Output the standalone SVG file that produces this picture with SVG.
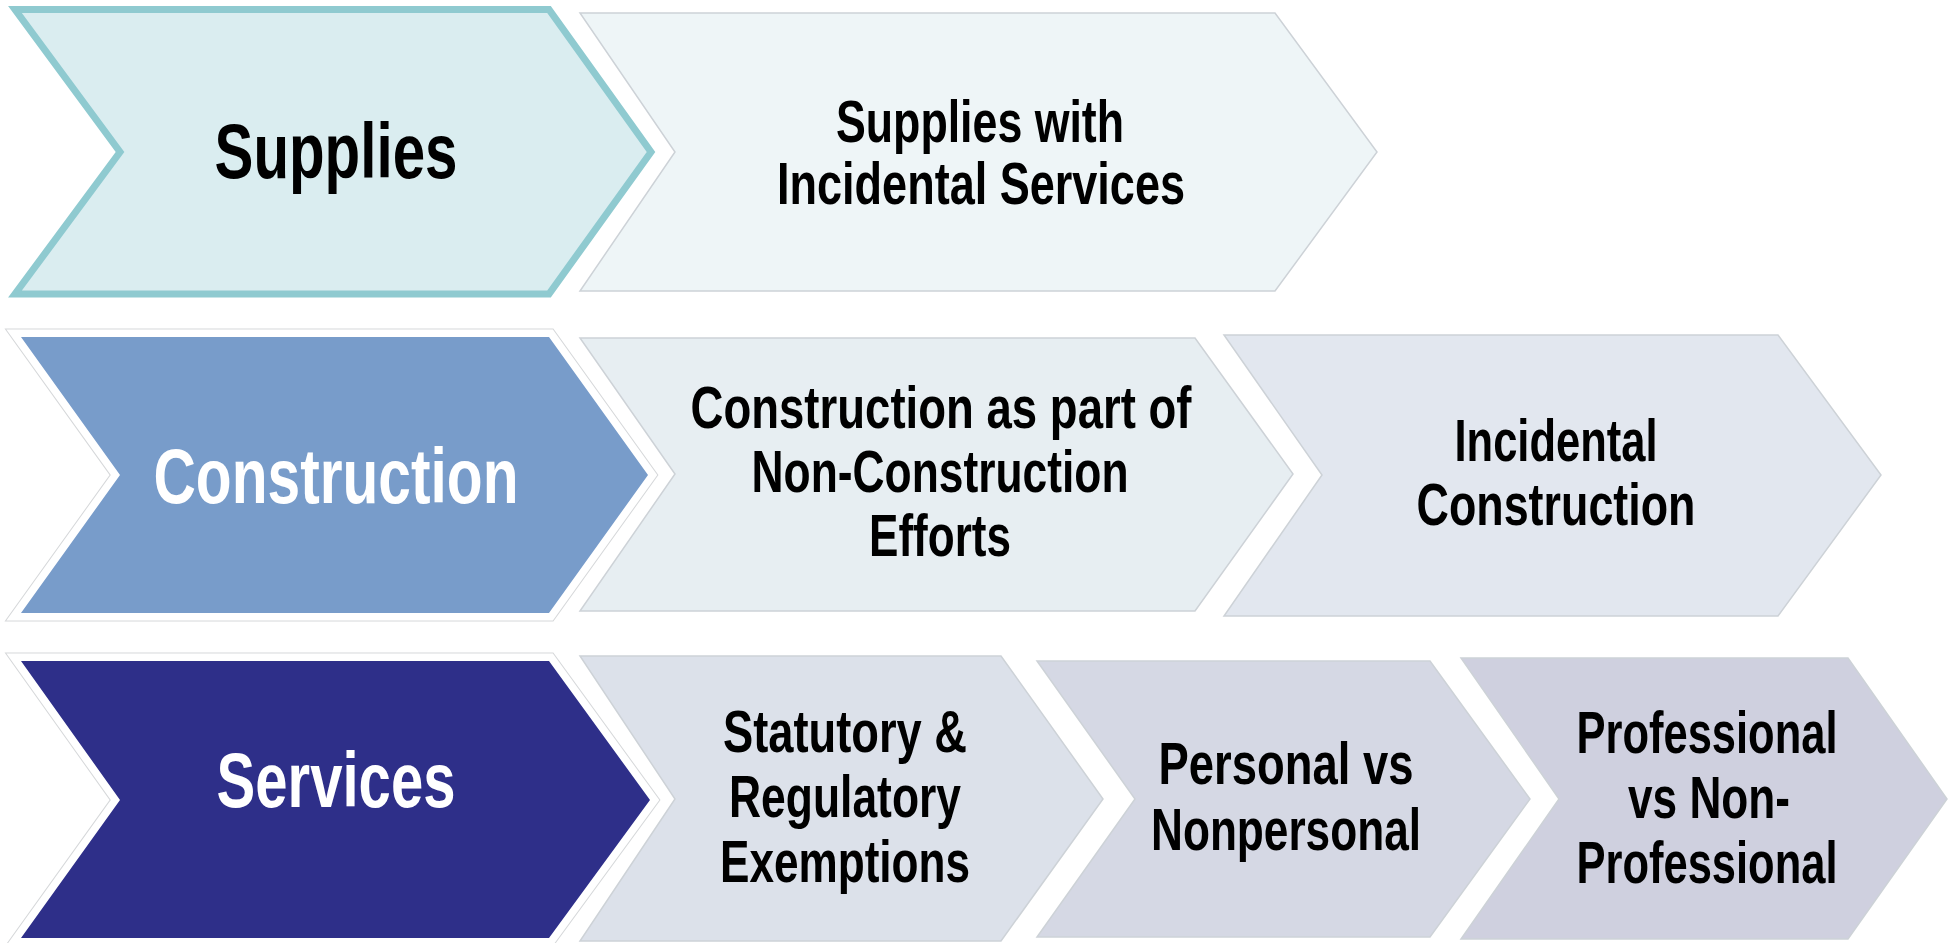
<svg xmlns="http://www.w3.org/2000/svg" width="1952" height="943" viewBox="0 0 1952 943">
<style>
text{font-family:"Liberation Sans",Arial,sans-serif;font-weight:bold;text-anchor:middle;}
.lbl{font-size:77px;}
.sub{font-size:59px;fill:#000;}
.dark{fill:#000;}
.white{fill:#fff;}
.light{stroke:#CDD2D7;stroke-width:1.5;}
.halo1{fill:none;stroke:#D6D8DA;stroke-width:17;stroke-linejoin:miter;}
.halo2{fill:none;stroke:#FFFFFF;stroke-width:15;stroke-linejoin:miter;}
</style>
<rect width="1952" height="943" fill="#FFFFFF"/>
<g id="connectors"/>

<g id="supplies">
<polygon points="15,9.5 549,9.5 651,152 549,294 15,294 120,152" fill="#DAEDF0" stroke="#8FCAD0" stroke-width="7"/>
<text class="lbl dark" x="336" y="178" textLength="243" lengthAdjust="spacingAndGlyphs">Supplies</text>
</g>

<g id="supplies-incidental">
<polygon class="light" points="580,13 1275,13 1377,152 1275,291 580,291 675,152" fill="#EEF5F7"/>
<text class="sub"><tspan x="980" y="142" textLength="288" lengthAdjust="spacingAndGlyphs">Supplies with</tspan><tspan x="981" y="204" textLength="408" lengthAdjust="spacingAndGlyphs">Incidental Services</tspan></text>
</g>

<g id="construction">
<polygon class="halo1" points="21,337 549,337 648,475 549,613 21,613 120,475"/>
<polygon class="halo2" points="21,337 549,337 648,475 549,613 21,613 120,475"/>
<polygon points="21,337 549,337 648,475 549,613 21,613 120,475" fill="#789CCA"/>
<text class="lbl white" x="336" y="503" textLength="365" lengthAdjust="spacingAndGlyphs">Construction</text>
</g>

<g id="construction-part">
<polygon class="light" points="580,338 1195,338 1293,474 1195,611 580,611 675,474" fill="#E7EEF2"/>
<text class="sub"><tspan x="941" y="428" textLength="501" lengthAdjust="spacingAndGlyphs">Construction as part of</tspan><tspan x="940" y="492" textLength="377" lengthAdjust="spacingAndGlyphs">Non-Construction</tspan><tspan x="940" y="556" textLength="142" lengthAdjust="spacingAndGlyphs">Efforts</tspan></text>
</g>

<g id="incidental-construction">
<polygon class="light" points="1224,335 1778,335 1881,475 1778,616 1224,616 1322,475" fill="#E2E7EF"/>
<text class="sub"><tspan x="1556" y="461" textLength="203" lengthAdjust="spacingAndGlyphs">Incidental</tspan><tspan x="1556" y="525" textLength="279" lengthAdjust="spacingAndGlyphs">Construction</tspan></text>
</g>

<g id="services">
<polygon class="halo1" points="21,661 549,661 650,800 549,938 21,938 120,800"/>
<polygon class="halo2" points="21,661 549,661 650,800 549,938 21,938 120,800"/>
<polygon points="21,661 549,661 650,800 549,938 21,938 120,800" fill="#2E2F89"/>
<text class="lbl white" x="336" y="807" textLength="239" lengthAdjust="spacingAndGlyphs">Services</text>
</g>

<g id="statutory">
<polygon class="light" points="580,656 1001,656 1103,799 1001,941 580,941 675,799" fill="#DCE1EA"/>
<text class="sub"><tspan x="845" y="752" textLength="244" lengthAdjust="spacingAndGlyphs">Statutory &amp;</tspan><tspan x="845" y="817" textLength="232" lengthAdjust="spacingAndGlyphs">Regulatory</tspan><tspan x="845" y="882" textLength="250" lengthAdjust="spacingAndGlyphs">Exemptions</tspan></text>
</g>

<g id="personal">
<polygon class="light" points="1037,661 1430,661 1530,799 1430,937 1037,937 1135,799" fill="#D5D8E4"/>
<text class="sub"><tspan x="1286" y="784" textLength="255" lengthAdjust="spacingAndGlyphs">Personal vs</tspan><tspan x="1286" y="850" textLength="270" lengthAdjust="spacingAndGlyphs">Nonpersonal</tspan></text>
</g>

<g id="professional">
<polygon class="light" points="1461,658 1848,658 1947,799 1848,939 1461,939 1559,799" fill="#CFD0DF"/>
<text class="sub"><tspan x="1707" y="753" textLength="261" lengthAdjust="spacingAndGlyphs">Professional</tspan><tspan x="1709" y="818" textLength="162" lengthAdjust="spacingAndGlyphs">vs Non-</tspan><tspan x="1707" y="883" textLength="261" lengthAdjust="spacingAndGlyphs">Professional</tspan></text>
</g>
</svg>
